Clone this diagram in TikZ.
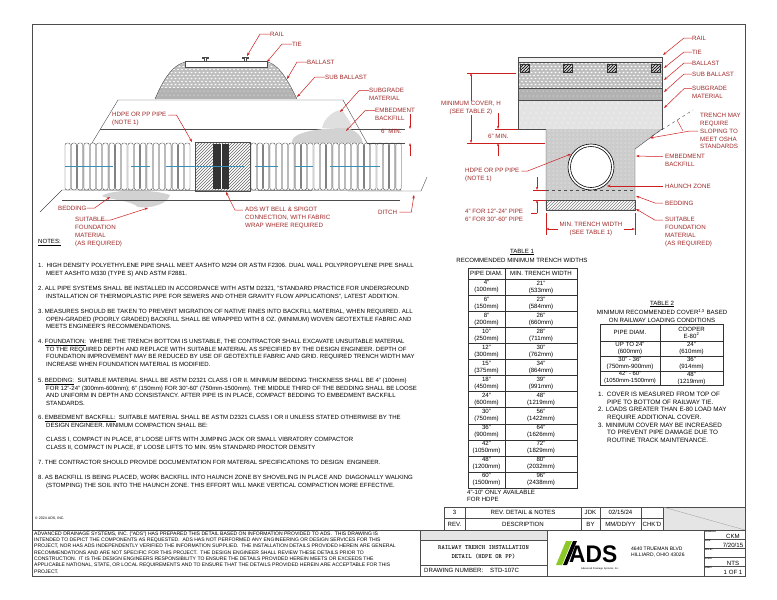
\documentclass[tikz,border=0pt]{standalone}
\usepackage{fontspec}
\setmainfont{Liberation Sans}
\usetikzlibrary{arrows.meta}
\usetikzlibrary{patterns}
\definecolor{lblred}{RGB}{160,40,40}
\definecolor{ldred}{RGB}{205,30,30}
\definecolor{adsgreen}{RGB}{140,200,40}
\tikzset{
  lbl/.style={text=lblred,font=\fontsize{6.2}{7.9}\selectfont,align=left,anchor=west,inner sep=0pt},
  lead/.style={ldred,line width=0.5pt,-{Stealth[length=3.5pt,width=2.5pt]}},
  dim/.style={ldred,line width=0.4pt},
  txt/.style={font=\fontsize{6.05}{7.7}\selectfont,align=left,anchor=north west,inner sep=0pt},
  tbl/.style={font=\fontsize{6.1}{7}\selectfont,align=center,inner sep=0pt},
  lay/.style={draw=black!70,line width=0.4pt},
}
\newcommand\ballastdots[4]{% x0 y0 x1 y1
  \begin{scope}
    \clip (#1,#2) rectangle (#3,#4);
    \pgfmathsetmacro\ysec{#2+3}
    \pgfmathsetmacro\xsec{#1+4}
    \foreach \yy in {#2,\ysec,...,#4}{
      \foreach \xx in {#1,\xsec,...,#3}{
        \fill[white] ({\xx+1.5*mod(\yy,2)},{\yy+1.5}) ellipse (1.1 and 0.7);
      }
    }
  \end{scope}}
\begin{document}
\begin{tikzpicture}[x=1pt,y=-1pt]
  % Boundary
  \path[use as bounding box,fill=white] (0,0) rectangle (777,600);
  \draw[line width=0.8pt,black!70] (32,24) rectangle (745,576);

  % ---------- left detail: embankment ----------
  \draw[lay] (92,143) -- (118,100) -- (343,100) -- (367,143);
  \draw[lay] (100,129) -- (360,129);
  \draw[lay] (360,129) -- (405,129);
  \draw[lay] (367,143) -- (405,143);
  % ballast
  \fill[gray!50] (185,62) .. controls (170,66) and (161,85) .. (155,99) -- (297,99) .. controls (290,85) and (281,66) .. (268,62) -- cycle;
  \begin{scope}
    \clip (185,62) .. controls (170,66) and (161,85) .. (155,99) -- (297,99) .. controls (290,85) and (281,66) .. (268,62) -- cycle;
    \ballastdots{150}{62}{300}{88}
    \fill[gray!60] (150,88) rectangle (300,99);
    \foreach \xx in {152,156,...,300}{\fill[white] (\xx,91) circle (0.5); \fill[white] (\xx+2,95) circle (0.5);}
  \end{scope}
  \draw[lay] (185,62) .. controls (170,66) and (161,85) .. (155,99);
  \draw[lay] (268,62) .. controls (281,66) and (290,85) .. (297,99);
  \draw[lay,fill=white] (185,61) rectangle (267,67);
  \foreach \xx in {205,245}{
    \draw[lay] (\xx-1,61) -- (\xx-1,58) -- (\xx-3,58) -- (\xx-3,57) -- (\xx+3,57) -- (\xx+3,58) -- (\xx+1,58) -- (\xx+1,61);
  }
  % stippled blobs
  \fill[gray!35] (292,143) .. controls (290,132) and (320,128) .. (345,128) .. controls (358,130) and (362,138) .. (363,143) -- cycle;
  \fill[gray!25] (322,128) .. controls (324,118) and (334,110) .. (342,110) -- (350,122) -- (352,128) -- cycle;
  \fill[gray!35] (102,196) .. controls (108,190) and (150,188) .. (170,195) .. controls (168,204) and (150,209) .. (138,207) .. controls (130,200) and (110,200) .. (102,196) -- cycle;
  % ground
  \draw[lay] (40,212) -- (62,190) -- (421,191) -- (427,177);
  \draw[lay] (62,200) -- (400,200);
  % pipe corrugations
  \foreach \xx in {65,71.3,...,190}{
    \draw[black!75,line width=0.35pt,rounded corners=2pt] (\xx,143) rectangle (\xx+5.3,190);
  }
  \foreach \xx in {251,257.3,...,400}{
    \draw[black!75,line width=0.35pt,rounded corners=2pt] (\xx,143) rectangle (\xx+5.3,190);
  }
  \draw[lay,pattern=north east lines,pattern color=black!60] (195,142) rectangle (250,191);
  \fill[black!80] (213,144) rectangle (229,189);
  \draw[white,line width=0.3pt] (221,144) -- (221,189);
  \foreach \xa/\xb in {65/113,131/150,166/245,255/278,295/313,330/380}{
    \draw[cyan!70!black,line width=0.5pt] (\xa,166) -- (\xb,166);
  }
  % left detail labels
  \node[lbl] (railA) at (270,34) {RAIL};
  \node[lbl] (tieA) at (292,44) {TIE};
  \node[lbl] (balA) at (307,62) {BALLAST};
  \node[lbl] (subA) at (325,77) {SUB BALLAST};
  \node[lbl] (sgA) at (369,94) {SUBGRADE\\MATERIAL};
  \node[lbl] (embA) at (375,114) {EMBEDMENT\\BACKFILL};
  \node[lbl] (minA) at (381,131) {6" MIN.};
  \node[lbl] (pipeA) at (112,119) {HDPE OR PP PIPE\\(NOTE 1)};
  \node[lbl] (bedA) at (58,208) {BEDDING};
  \node[lbl] (fndA) at (75,232) {SUITABLE\\FOUNDATION\\MATERIAL\\(AS REQUIRED)};
  \node[lbl] (bellA) at (245,218) {ADS WT BELL \& SPIGOT\\CONNECTION, WITH FABRIC\\WRAP WHERE REQUIRED};
  \node[lbl] (ditchA) at (378,212) {DITCH};
  \coordinate (railAp) at (247,56);
  \coordinate (tieAp) at (267,62);
  \coordinate (balAp) at (287,79);
  \coordinate (subAp) at (297,97);
  \coordinate (sgAp) at (340,112);
  \coordinate (embAp) at (346,131);
  \coordinate (pipeAp) at (192,142);
  \coordinate (bedAp) at (110,197);
  \coordinate (fndAp) at (148,208);
  \coordinate (bellAp) at (226,192);
  \coordinate (ditchAp) at (414,195);
  \draw[lead] (railA.west) -- ++(-10,0) -- (railAp);
  \draw[lead] (tieA.west) -- ++(-10,0) -- (tieAp);
  \draw[lead] (balA.west) -- ++(-10,0) -- (balAp);
  \draw[lead] (subA.west) -- ++(-10,0) -- (subAp);
  \draw[lead] (sgA.north west) ++(0,3) -- ++(-10,0) -- (sgAp);
  \draw[lead] (embA.north west) ++(0,3) -- ++(-10,0) -- (embAp);
  \draw[lead] (pipeA.north east) ++(2,3) -- ++(8,0) -- (pipeAp);
  \draw[lead] (bedA.east) -- ++(8,0) -- (bedAp);
  \draw[lead] (fndA.north east) ++(-22,3) -- ++(10,0) -- (fndAp);
  \draw[lead] (bellA.north west) ++(-2,3) -- ++(-8,0) -- (bellAp);
  \draw[lead] (ditchA.east) ++(2,0) -- ++(12,0) -- (ditchAp);
  \draw[dim,-{Stealth[length=3pt,width=2pt]}] (410,114) -- (410,129);
  \draw[dim,-{Stealth[length=3pt,width=2pt]}] (410,156) -- (410,143);

  % ---------- right detail: trench ----------
  \fill[gray!12] (518,57) rectangle (662,62);
  \fill[gray!50] (518,62) rectangle (662,88);
  \ballastdots{518}{62}{662}{88}
  \fill[gray!60] (518,88) rectangle (662,100);
  \foreach \xx in {519,523,...,662}{\fill[white] (\xx,91) circle (0.5); \fill[white] (\xx+2,96) circle (0.5);}
  \fill[gray!22] (518,100) rectangle (662,129);
  \foreach \xx in {520,526,...,660}{\foreach \yy in {103,108,...,128}{\fill[white] ({\xx+2*mod(\yy,3)},\yy) circle (0.6);}}
  \foreach \xx in {520,563,607,651}{
    \draw[black!80,pattern=north east lines,pattern color=black] (\xx,64) rectangle (\xx+9,72);
  }
  \draw[lay] (518,57) rectangle (662,129);
  \draw[lay] (518,62) -- (662,62);
  \draw[lay] (518,88) -- (662,88);
  \draw[lay] (518,100) -- (662,100);
  \fill[gray!40] (546,129) -- (662,129) -- (635,149) -- (635,200) -- (546,200) -- cycle;
  \begin{scope}
    \clip (546,129) -- (662,129) -- (635,149) -- (635,200) -- (546,200) -- cycle;
    \foreach \xx in {547,551,...,662}{\foreach \yy in {131,135,...,200}{\fill[white] ({\xx+2*mod(\yy,2)},\yy) circle (0.5);}}
  \end{scope}
  \draw[lay,pattern=north east lines,pattern color=black!50] (546,200) rectangle (635,210);
  \draw[lay] (546,129) -- (546,210) -- (635,210) -- (635,149) -- (662,129);
  \draw[lay,dashed] (546,190) -- (635,190);
  \draw[black,line width=0.6pt,fill=white] (591,167) circle (23);
  \draw[black,line width=0.6pt] (591,167) circle (20.5);
  \draw[black!70,dashed] (652,136) -- (693,110);
  % right detail labels
  \node[lbl] (railB) at (692,38) {RAIL};
  \node[lbl] (tieB) at (692,52) {TIE};
  \node[lbl] (balB) at (692,63) {BALLAST};
  \node[lbl] (subB) at (692,74) {SUB BALLAST};
  \node[lbl] (sgB) at (692,92) {SUBGRADE\\MATERIAL};
  \node[lbl] (oshaB) at (700,131) {TRENCH MAY\\REQUIRE\\SLOPING TO\\MEET OSHA\\STANDARDS};
  \node[lbl] (embB) at (665,160) {EMBEDMENT\\BACKFILL};
  \node[lbl] (hauB) at (665,186) {HAUNCH ZONE};
  \node[lbl] (bedB) at (665,203) {BEDDING};
  \node[lbl] (fndB) at (665,232) {SUITABLE\\FOUNDATION\\MATERIAL\\(AS REQUIRED)};
  \node[lbl,anchor=center,align=center] (covB) at (471,108) {MINIMUM COVER, H\\(SEE TABLE 2)};
  \node[lbl] (minB) at (488,136) {6" MIN.};
  \node[lbl] (pipeB) at (465,175) {HDPE OR PP PIPE\\(NOTE 1)};
  \node[lbl] (bedtB) at (465,215) {4" FOR 12"-24" PIPE\\6" FOR 30"-60" PIPE};
  \node[lbl,anchor=center,align=center] (widB) at (591,229) {MIN. TRENCH WIDTH\\(SEE TABLE 1)};
  \coordinate (railBp) at (663,55);
  \coordinate (tieBp) at (664,68);
  \coordinate (balBp) at (664,80);
  \coordinate (subBp) at (664,92);
  \coordinate (sgBp) at (664,108);
  \coordinate (oshaBp) at (650,138);
  \coordinate (embBp) at (636,156);
  \coordinate (hauBp) at (607,186);
  \coordinate (bedBp) at (636,196);
  \coordinate (fndBp) at (636,209);
  \coordinate (pipeBp) at (571,154);
  \draw[lead] (railB.west) -- ++(-8,0) -- (railBp);
  \draw[lead] (tieB.west) -- ++(-8,0) -- (tieBp);
  \draw[lead] (balB.west) -- ++(-8,0) -- (balBp);
  \draw[lead] (subB.west) -- ++(-8,0) -- (subBp);
  \draw[lead] (sgB.north west) ++(0,3) -- ++(-8,0) -- (sgBp);
  \draw[lead] (oshaB.west) ++(-2,0) -- ++(-8,0) -- (oshaBp);
  \draw[dim] (677,120) -- (683,131);
  \draw[lead] (embB.north west) ++(-2,3) -- (embBp);
  \draw[lead] (hauB.west) ++(-2,0) -- (hauBp);
  \draw[lead] (bedB.west) ++(-2,0) -- ++(-8,0) -- (bedBp);
  \draw[lead] (fndB.north west) ++(-2,3) -- ++(-8,0) -- (fndBp);
  \draw[lead] (pipeB.north east) ++(2,3) -- ++(6,0) -- (pipeBp);
  % dimensions
  \draw[dim] (467,73) -- (516,73);
  \draw[dim] (467,143) -- (545,143);
  \draw[dim] (495,129) -- (518,129);
  \draw[dim,{Stealth[length=3pt,width=2pt]}-] (471,73) -- (covB.north);
  \draw[dim,-{Stealth[length=3pt,width=2pt]}] (covB.south) -- (471,143);
  \draw[dim,-{Stealth[length=3pt,width=2pt]}] (498,113) -- (498,129);
  \draw[dim,-{Stealth[length=3pt,width=2pt]}] (498,156) -- (498,143);
  \draw[dim] (533,190) -- (546,190);
  \draw[dim] (533,200) -- (546,200);
  \draw[dim,-{Stealth[length=3pt,width=2pt]}] (537,177) -- (537,190);
  \draw[dim,-{Stealth[length=3pt,width=2pt]}] (537,213) -- (537,200);
  \draw[dim] (537,213) -- (531,213);
  \draw[dim] (546,213) -- (546,235);
  \draw[dim] (635,213) -- (635,235);
  \draw[dim,-{Stealth[length=3pt,width=2pt]}] (widB.west) ++(-1,0) -- (546,229);
  \draw[dim,-{Stealth[length=3pt,width=2pt]}] (widB.east) ++(1,0) -- (635,229);

  % ---------- notes ----------
  \node[txt] (notesT) at (38,239) {\underline{NOTES:}};
  \node[txt] (n1) at (38,263) {1.\ \ HIGH DENSITY POLYETHYLENE PIPE SHALL MEET AASHTO M294 OR ASTM F2306. DUAL WALL POLYPROPYLENE PIPE SHALL\\\hspace*{8pt}MEET AASHTO M330 (TYPE S) AND ASTM F2881.};
  \node[txt] (n2) at (38,286) {2.\ ALL PIPE SYSTEMS SHALL BE INSTALLED IN ACCORDANCE WITH ASTM D2321, "STANDARD PRACTICE FOR UNDERGROUND\\\hspace*{8pt}INSTALLATION OF THERMOPLASTIC PIPE FOR SEWERS AND OTHER GRAVITY FLOW APPLICATIONS", LATEST ADDITION.};
  \node[txt] (n3) at (38,309) {3.\ MEASURES SHOULD BE TAKEN TO PREVENT MIGRATION OF NATIVE FINES INTO BACKFILL MATERIAL, WHEN REQUIRED. ALL\\\hspace*{8pt}OPEN-GRADED (POORLY GRADED) BACKFILL SHALL BE WRAPPED WITH 8 OZ. (MINIMUM) WOVEN GEOTEXTILE FABRIC AND\\\hspace*{8pt}MEETS ENGINEER'S RECOMMENDATIONS.};
  \node[txt] (n4) at (38,339) {4.\ \underline{FOUNDATION:}\ \ WHERE THE TRENCH BOTTOM IS UNSTABLE, THE CONTRACTOR SHALL EXCAVATE UNSUITABLE MATERIAL\\\hspace*{8pt}TO THE REQUIRED DEPTH AND REPLACE WITH SUITABLE MATERIAL AS SPECIFIED BY THE DESIGN ENGINEER. DEPTH OF\\\hspace*{8pt}FOUNDATION IMPROVEMENT MAY BE REDUCED BY USE OF GEOTEXTILE FABRIC AND GRID. REQUIRED TRENCH WIDTH MAY\\\hspace*{8pt}INCREASE WHEN FOUNDATION MATERIAL IS MODIFIED.};
  \node[txt] (n5) at (38,378) {5.\ \underline{BEDDING:}\ \ SUITABLE MATERIAL SHALL BE ASTM D2321 CLASS I OR II. MINIMUM BEDDING THICKNESS SHALL BE 4" (100mm)\\\hspace*{8pt}FOR 12"-24" (300mm-600mm); 6" (150mm) FOR 30"-60" (750mm-1500mm). THE MIDDLE THIRD OF THE BEDDING SHALL BE LOOSE\\\hspace*{8pt}AND UNIFORM IN DEPTH AND CONSISTANCY. AFTER PIPE IS IN PLACE, COMPACT BEDDING TO EMBEDMENT BACKFILL\\\hspace*{8pt}STANDARDS.};
  \node[txt] (n6) at (38,415) {6.\ \underline{EMBEDMENT BACKFILL:}\ \ SUITABLE MATERIAL SHALL BE ASTM D2321 CLASS I OR II UNLESS STATED OTHERWISE BY THE\\\hspace*{8pt}DESIGN ENGINEER. MINIMUM COMPACTION SHALL BE:\\[7pt]\hspace*{8pt}CLASS I, COMPACT IN PLACE, 8" LOOSE LIFTS WITH JUMPING JACK OR SMALL VIBRATORY COMPACTOR\\\hspace*{8pt}CLASS II, COMPACT IN PLACE, 8" LOOSE LIFTS TO MIN. 95\% STANDARD PROCTOR DENSITY};
  \node[txt] (n7) at (38,460) {7.\ THE CONTRACTOR SHOULD PROVIDE DOCUMENTATION FOR MATERIAL SPECIFICATIONS TO DESIGN\ \ ENGINEER.};
  \node[txt] (n8) at (38,475) {8.\ AS BACKFILL IS BEING PLACED, WORK BACKFILL INTO HAUNCH ZONE BY SHOVELING IN PLACE AND\ \ DIAGONALLY WALKING\\\hspace*{8pt}(STOMPING) THE SOIL INTO THE HAUNCH ZONE. THIS EFFORT WILL MAKE VERTICAL COMPACTION MORE EFFECTIVE.};

  % ---------- table 1 ----------
  \node[tbl] (t1a) at (522,252) {\underline{TABLE 1}};
  \node[tbl] (t1b) at (522,260) {RECOMMENDED MINIMUM TRENCH WIDTHS};
  \draw[black!80,line width=0.5pt] (468,268) rectangle (577,488);
  \draw[black!80,line width=0.4pt] (505,268) -- (505,488);
  \draw[black!80,line width=0.4pt] (468,279) -- (577,279);
  \node[tbl] (t1h1) at (486.5,273.5) {PIPE DIAM.};
  \node[tbl] (t1h2) at (541,273.5) {MIN. TRENCH WIDTH};
  \foreach \d/\dm/\w/\wm [count=\i from 0] in {4"/100mm/21"/533mm,6"/150mm/23"/584mm,8"/200mm/26"/660mm,10"/250mm/28"/711mm,12"/300mm/30"/762mm,15"/375mm/34"/864mm,18"/450mm/39"/991mm,24"/600mm/48"/1219mm,30"/750mm/56"/1422mm,36"/900mm/64"/1626mm,42"/1050mm/72"/1829mm,48"/1200mm/80"/2032mm,60"/1500mm/96"/2438mm}{
    \pgfmathsetmacro\ry{279+16.08*\i}
    \draw[black!80,line width=0.4pt] (468,\ry+16.08) -- (577,\ry+16.08);
    \node[tbl] at (486.5,\ry+8) {\d\\(\dm)};
    \node[tbl] at (541,\ry+8) {\w\\(\wm)};
  }
  \node[tbl,anchor=north west,align=left] (t1n) at (467,490) {4"-10" ONLY AVAILABLE\\FOR HDPE};

  % ---------- table 2 ----------
  \node[tbl] (t2a) at (662,304) {\underline{TABLE 2}};
  \node[tbl] (t2b) at (662,312) {MINIMUM RECOMMENDED COVER\textsuperscript{1,3} BASED};
  \node[tbl] (t2c) at (662,320) {ON RAILWAY LOADING CONDITIONS};
  \draw[black!80,line width=0.5pt] (600,324) rectangle (723,385);
  \draw[black!80,line width=0.4pt] (660,324) -- (660,385);
  \foreach \ry in {341,356,371}{\draw[black!80,line width=0.4pt] (600,\ry) -- (723,\ry);}
  \node[tbl] (t2h1) at (630,332.5) {PIPE DIAM.};
  \node[tbl] (t2h2) at (691.5,332.5) {COOPER\\E-80\textsuperscript{2}};
  \node[tbl] at (630,348.5) {UP TO 24"\\(600mm)};
  \node[tbl] at (691.5,348.5) {24"\\(610mm)};
  \node[tbl] at (630,363.5) {30" - 36"\\(750mm-900mm)};
  \node[tbl] at (691.5,363.5) {36"\\(914mm)};
  \node[tbl,font=\fontsize{5.9}{7}\selectfont] at (630,378) {42" - 60"\\(1050mm-1500mm)};
  \node[tbl] at (691.5,378) {48"\\(1219mm)};
  \node[tbl,anchor=north west,align=left,font=\fontsize{6.3}{7.6}\selectfont] (t2n) at (598,392) {1.\ \ COVER IS MEASURED FROM TOP OF\\\hspace*{9pt}PIPE TO BOTTOM OF RAILWAY TIE.\\2. LOADS GREATER THAN E-80 LOAD MAY\\\hspace*{9pt}REQUIRE ADDITIONAL COVER.\\3. MINIMUM COVER MAY BE INCREASED\\\hspace*{9pt}TO PREVENT PIPE DAMAGE DUE TO\\\hspace*{9pt}ROUTINE TRACK MAINTENANCE.};

  % ---------- title block ----------
  \node[txt,font=\fontsize{3.6}{4}\selectfont] (copy) at (35,517) {\textcopyright\ 2024 ADS, INC.};
  \fill[gray!20] (663,507) rectangle (745,530);
  \fill[gray!20] (420,530) rectangle (547,540);
  \draw[black!70,line width=0.4pt] (444,507) -- (745,507);
  \draw[black!70,line width=0.4pt] (444,518) -- (663,518);
  \draw[black!70,line width=0.6pt] (32,530) -- (745,530);
  \foreach \cx in {444,465,581,600,641,663}{\draw[black!70,line width=0.4pt] (\cx,507) -- (\cx,530);}
  \draw[black!40,line width=0.3pt] (663,507) -- (745,530);
  \node[tbl] at (454.5,512.5) {3};
  \node[tbl] at (523,512.5) {REV. DETAIL \& NOTES};
  \node[tbl] at (590.5,512.5) {JDK};
  \node[tbl] at (620.5,512.5) {02/15/24};
  \node[tbl] at (454.5,524) {REV.};
  \node[tbl] at (523,524) {DESCRIPTION};
  \node[tbl] at (590.5,524) {BY};
  \node[tbl] at (620.5,524) {MM/DD/YY};
  \node[tbl] at (652,524) {CHK'D};
  \draw[black!70,line width=0.5pt] (32,530) rectangle (420,576);
  \node[txt,font=\fontsize{5.05}{6.3}\selectfont] (disc) at (34,531.5) {ADVANCED DRAINAGE SYSTEMS, INC. ("ADS") HAS PREPARED THIS DETAIL BASED ON INFORMATION PROVIDED TO ADS.\ \ THIS DRAWING IS\\INTENDED TO DEPICT THE COMPONENTS AS REQUESTED.\ \ ADS HAS NOT PERFORMED ANY ENGINEERING OR DESIGN SERVICES FOR THIS\\PROJECT, NOR HAS ADS INDEPENDENTLY VERIFIED THE INFORMATION SUPPLIED.\ \ THE INSTALLATION DETAILS PROVIDED HEREIN ARE GENERAL\\RECOMMENDATIONS AND ARE NOT SPECIFIC FOR THIS PROJECT.\ \ THE DESIGN ENGINEER SHALL REVIEW THESE DETAILS PRIOR TO\\CONSTRUCTION.\ \ IT IS THE DESIGN ENGINEERS RESPONSIBILITY TO ENSURE THE DETAILS PROVIDED HEREIN MEETS OR EXCEEDS THE\\APPLICABLE NATIONAL, STATE, OR LOCAL REQUIREMENTS AND TO ENSURE THAT THE DETAILS PROVIDED HEREIN ARE ACCEPTABLE FOR THIS\\PROJECT.};
  \draw[black!70,line width=0.5pt] (420,530) rectangle (547,576);
  \draw[black!70,line width=0.4pt] (420,540) -- (547,540);
  \draw[black!70,line width=0.4pt] (420,565) -- (547,565);
  \node[tbl,font=\ttfamily\bfseries\fontsize{6.4}{8.5}\selectfont] (ttl) at (483.5,552.5) {RAILWAY TRENCH INSTALLATION\\DETAIL (HDPE OR PP)};
  \node[tbl,anchor=west] (dwgL) at (424,570.5) {DRAWING NUMBER:};
  \node[tbl,anchor=west] (dwgN) at (490,570.5) {STD-107C};
  % logo
  \fill[adsgreen] (556,565) -- (562,565) -- (572,541) -- (566,541) -- cycle;
  \fill[black] (563,565) -- (567,565) -- (577,541) -- (573,541) -- cycle;
  \node[tbl,anchor=west,font=\bfseries\fontsize{24}{24}\selectfont,xscale=0.95] (logo) at (569,554) {ADS};
  \node[tbl,font=\fontsize{2.5}{3}\selectfont] (logoS) at (600,569) {Advanced Drainage Systems, Inc.};
  \node[tbl,anchor=west,align=left,font=\fontsize{5}{6.8}\selectfont] (addr) at (631,552) {4640 TRUEMAN BLVD\\HILLIARD, OHIO 43026};
  \draw[black!70,line width=0.5pt] (704,530) rectangle (745,576);
  \foreach \ry in {539,548,557,566}{\draw[black!70,line width=0.4pt] (704,\ry) -- (745,\ry);}
  \foreach \ry/\tx in {531/DRAWN BY,540/DATE,549/REV BY,558/SCALE,567/SHEET}{
    \node[tbl,anchor=north west,font=\bfseries\fontsize{2}{2}\selectfont] at (705,\ry) {\tx};
  }
  \node[tbl] at (733,536) {CKM};
  \node[tbl] at (733,545) {7/20/15};
  \node[tbl] at (733,563) {NTS};
  \node[tbl] at (733,572) {1 OF 1};
\end{tikzpicture}
\end{document}
